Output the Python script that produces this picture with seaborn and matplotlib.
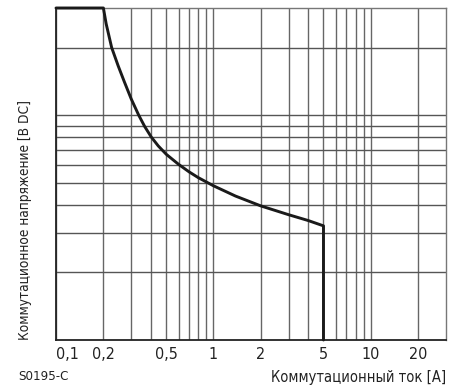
import matplotlib
matplotlib.use("Agg")
import matplotlib.pyplot as plt
import seaborn as sns
import pandas as pd

# Data
current_a = [0.1, 0.2, 0.2083, 0.2257, 0.2483, 0.2711, 0.3004, 0.3354, 0.3662, 0.4028, 0.4464,
             0.502, 0.6, 0.7, 0.8, 0.9, 1.0, 1.38, 2.0, 3.0, 4.0, 5.0, 5.0]
voltage_v = [300, 300, 255, 200, 165.8, 141.4, 118.2, 100, 89.0, 80.0, 73.0,
             67.0, 60.5, 56.0, 52.8, 50.5, 48.55, 43.7, 39.5, 36.1, 34.0, 32.2, 10]

x_major = [0.1, 0.2, 0.5, 1, 2, 5, 10, 20]
x_major_labels = ["0,1", "0,2", "0,5", "1", "2", "5", "10", "20"]
x_minor = [0.3, 0.4, 0.6, 0.7, 0.8, 0.9, 3, 4, 6, 7, 8, 9]
y_grid = [20, 30, 40, 50, 60, 70, 80, 90, 100, 200]

xlabel = "Коммутационный ток [A]"
ylabel = "Коммутационное напряжение [В DC]"
code = "S0195-C"

df = pd.DataFrame({"I": current_a, "U": voltage_v})

sns.set_style("white")
plt.rcParams["font.family"] = ["DejaVu Sans"]
plt.rcParams["font.stretch"] = "condensed"

fig = plt.figure(figsize=(4.62, 3.87), dpi=100)
ax = fig.add_axes([56 / 462, 1 - 340 / 387, 390 / 462, 332 / 387])

ax.set_xscale("log")
ax.set_yscale("log")
ax.set_xlim(0.1, 30)
ax.set_ylim(10, 300)

sns.lineplot(data=df, x="I", y="U", ax=ax, color="#1a1a1a", linewidth=2.1,
             sort=False, estimator=None)
for ln in ax.get_lines():
    ln.set_clip_on(False)
    ln.set_zorder(5)
    ln.set_solid_joinstyle("round")

ax.set_xticks(x_major)
ax.set_xticklabels(x_major_labels, fontstretch="condensed")
ax.set_xticks(x_minor, minor=True)
ax.set_xticklabels([""] * len(x_minor), minor=True)
ax.set_yticks(y_grid)
ax.set_yticklabels([])
ax.set_yticks([], minor=True)
ax.tick_params(axis="both", which="both", length=0)
ax.tick_params(axis="x", labelsize=11.5, pad=5, colors="#222222")
lbls = ax.get_xticklabels()
lbls[0].set_horizontalalignment("left")

ax.grid(True, which="both", axis="x", color="#666666", linewidth=1.0)
ax.grid(True, which="major", axis="y", color="#555555", linewidth=1.0)
ax.set_axisbelow(True)

for side in ["top", "right"]:
    ax.spines[side].set_color("#777777")
    ax.spines[side].set_linewidth(1.0)
for side in ["left", "bottom"]:
    ax.spines[side].set_color("#222222")
    ax.spines[side].set_linewidth(1.3)

ax.set_xlabel(xlabel, loc="right", fontsize=10.5, color="#222222", labelpad=6,
              fontstretch="condensed")
ax.set_ylabel(ylabel, loc="bottom", fontsize=9.8, color="#222222", labelpad=14,
              fontstretch="condensed")

fig.text(18 / 462, 1 - 376 / 387, code, fontsize=9.5, color="#222222", va="center", ha="left",
         fontstretch="condensed")

fig.savefig("out.png", dpi=100)
